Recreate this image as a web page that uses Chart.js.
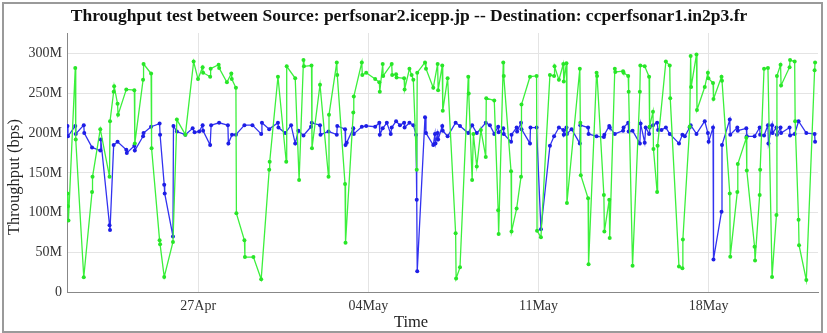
<!DOCTYPE html>
<html>
<head>
<meta charset="utf-8">
<script src="https://cdn.jsdelivr.net/npm/chart.js@4.4.0/dist/chart.umd.min.js"></script>
<style>
  body { margin: 0; background: #fff; }
  #wrap { position: relative; width: 827px; height: 333px; }
  #frame { position: absolute; left: 2px; top: 2px; width: 817px; height: 327px; border: 2px solid #9a9a9a; pointer-events: none; }
  canvas { position: absolute; left: 0; top: 0; }
</style>
</head>
<body>
<div id="wrap">
<canvas id="tputChart" width="827" height="333"></canvas>
<div id="frame"></div>
</div>
<script>
// time axis: day number counted from 1 Apr (so 04May = 34)
var tickDays = [27, 34, 41, 48];
var tickLabels = ["27Apr", "04May", "11May", "18May"];
var yTicks = [0, 50, 100, 150, 200, 250, 300];

// green series, Mbps
var greenDays = [21.62,21.64,21.66,21.94,21.96,22.29,22.63,22.65,22.97,23.35,23.37,23.52,23.54,23.68,23.70,24.04,24.37,24.39,24.73,24.75,
  25.06,25.08,25.41,25.43,25.60,25.96,26.12,26.47,26.81,26.99,27.18,27.20,27.49,27.51,27.84,27.86,28.18,28.36,28.38,28.55,
  28.57,28.90,28.92,29.27,29.59,29.92,29.94,30.28,30.62,30.64,30.99,31.15,31.33,31.35,31.66,31.68,32.01,32.36,32.38,32.70,
  32.72,33.04,33.06,33.38,33.40,33.73,33.75,33.91,34.28,34.45,34.47,34.59,34.61,34.96,34.98,35.14,35.16,35.47,35.49,35.69,
  35.78,35.85,35.99,36.01,36.33,36.37,36.67,36.85,36.87,37.04,37.06,37.26,37.59,37.61,37.77,38.11,38.13,38.27,38.32,38.46,
  38.63,38.83,38.85,39.18,39.34,39.36,39.55,39.57,39.87,39.89,40.10,40.28,40.30,40.65,40.92,40.94,41.10,41.47,41.64,41.66,
  41.84,42.02,42.04,42.15,42.17,42.70,42.72,42.74,43.04,43.06,43.39,43.41,43.69,43.71,43.91,43.93,44.14,44.16,44.48,44.50,
  44.69,44.71,44.87,45.17,45.19,45.37,45.55,45.57,45.71,45.73,45.88,45.90,46.24,46.40,46.42,46.78,46.92,46.94,47.22,47.26,
  47.28,47.50,47.52,47.84,47.97,47.99,48.18,48.20,48.53,48.55,48.87,48.89,49.18,49.20,49.55,49.57,49.89,49.91,50.10,50.12,
  50.28,50.44,50.61,50.79,50.81,50.96,50.98,51.33,51.35,51.54,51.56,51.70,51.72,52.02,52.36,52.38];
var greenMbps = [124,108,90,282,192,18.5,126,145,205,145,215,252,259,237,223,255,254,187,267,287,
  275,181,65,60,19,63,217,198,290,268,283,276,271,281,286,282,264,275,268,257,
  99,65,44,44,16,154,164,271,164,284,269,141,292,284,285,181,261,145,223,289,
  273,136,62,226,246,289,273,276,268,264,252,287,272,287,273,274,270,269,255,281,
  273,267,154,276,289,281,257,287,254,285,228,269,74,17,31,271,250,141,199,158,
  204,170,244,241,103,73,289,272,152,76,105,145,236,271,272,77,69,273,272,284,
  267,287,265,288,112,281,213,147,118,35,276,272,122,76,116,68,281,277,278,276,
  272,252,33,252,285,284,271,208,227,180,126,184,290,285,244,32,30,66,208,297,
  258,299,229,258,276,269,263,243,271,266,124,44.5,126,161,194,153,57,39.5,122,154,
  281,282,19,97,272,286,260,283,292,290,215,91,59,15,279,289];

// blue series, Mbps
var blueDays = [21.62,21.64,21.94,21.96,22.29,22.31,22.63,22.97,22.99,23.35,23.37,23.52,23.68,24.04,24.06,24.37,24.39,24.73,24.75,25.06,
  25.41,25.43,25.60,25.62,25.96,25.98,26.12,26.47,26.77,26.85,27.04,27.18,27.20,27.49,27.53,27.86,28.22,28.24,28.39,28.55,
  28.90,29.23,29.59,29.62,29.92,30.28,30.30,30.58,30.82,30.99,31.12,31.33,31.64,31.67,32.01,32.03,32.36,32.70,32.72,33.04,
  33.06,33.11,33.38,33.40,33.73,33.91,34.28,34.45,34.47,34.59,34.76,34.92,34.96,35.14,35.30,35.47,35.49,35.69,35.85,35.96,
  35.99,36.01,36.33,36.37,36.67,36.74,36.76,36.85,36.87,37.04,37.06,37.26,37.59,37.77,38.11,38.27,38.46,38.83,39.00,39.18,
  39.34,39.36,39.55,39.57,39.87,39.89,40.10,40.12,40.28,40.30,40.65,40.67,40.92,41.10,41.47,41.64,41.84,42.02,42.04,42.15,
  42.17,42.36,42.70,42.72,43.04,43.06,43.39,43.69,43.71,43.91,43.93,44.14,44.48,44.50,44.69,44.71,44.87,45.17,45.20,45.37,
  45.41,45.55,45.57,45.71,45.88,45.92,46.06,46.24,46.40,46.78,46.92,47.02,47.22,47.26,47.50,47.84,47.97,48.00,48.18,48.20,
  48.53,48.55,48.87,48.89,49.18,49.20,49.55,49.57,49.89,50.10,50.12,50.28,50.44,50.46,50.61,50.63,50.79,50.81,50.96,50.98,
  51.33,51.35,51.54,51.70,52.02,52.36,52.38];
var blueMbps = [209,196,209,199,210,200,182,178,192,84,78,185,189,179,175,184,178,196,200,208,
  212,198,135,124,70,209,202,198,206,201,202,210,203,185,210,213,210,187,198,198,
  210,210,199,213,205,213,207,200,210,187,203,197,208,213,210,198,202,198,209,205,
  185,188,206,199,208,209,208,213,198,206,213,199,207,215,210,213,207,213,210,198,
  116,26,220,200,185,199,187,200,192,209,203,196,213,209,200,210,200,213,210,199,
  208,201,206,199,189,198,207,202,213,205,187,207,207,79,184,196,207,204,198,207,
  199,205,187,210,207,199,196,195,198,209,207,199,203,207,213,202,203,187,212,188,
  207,199,207,210,213,204,204,207,199,187,198,196,207,210,199,215,200,189,207,41,
  101,185,217,198,207,203,206,196,196,207,198,197,210,187,210,200,207,198,207,200,
  207,197,199,215,200,199,189];

function toPoints(days, vals) {
  return days.map(function (d, i) { return { x: d, y: vals[i] }; });
}

var serif = "'Liberation Serif', 'Times New Roman', serif";

// axis titles sit centred on the whole picture, not on the plot area
var axisTitles = {
  id: 'axisTitles',
  afterDraw: function (chart) {
    var c = chart.ctx;
    c.save();
    c.fillStyle = '#222';
    c.font = '16.5px ' + serif;
    c.textAlign = 'center';
    c.textBaseline = 'middle';
    c.fillText('Time', 411, 323);
    c.translate(15, 177);
    c.rotate(-Math.PI / 2);
    c.fillText('Throughput (bps)', 0, 0);
    c.restore();
  }
};

var ctx = document.getElementById("tputChart");
var tputChart = new Chart(ctx, {
  type: 'line',
  data: {
    datasets: [{
      label: "green",
      data: toPoints(greenDays, greenMbps),
      borderColor: "rgb(60, 240, 60)",
      backgroundColor: "rgb(40, 230, 40)",
      borderWidth: 1.3,
      pointRadius: 2,
      pointBorderWidth: 0,
      pointBackgroundColor: "rgb(40, 230, 40)",
      tension: 0
    }, {
      label: "blue",
      data: toPoints(blueDays, blueMbps),
      borderColor: "rgb(50, 50, 240)",
      backgroundColor: "rgb(30, 30, 230)",
      borderWidth: 1.3,
      pointRadius: 2,
      pointBorderWidth: 0,
      pointBackgroundColor: "rgb(30, 30, 230)",
      tension: 0
    }]
  },
  options: {
    responsive: false,
    animation: false,
    devicePixelRatio: 1,
    layout: { padding: { left: 0, right: 9, top: 0, bottom: 0 } },
    plugins: {
      legend: { display: false },
      tooltip: { enabled: false },
      title: {
        display: true,
        text: "Throughput test between Source: perfsonar2.icepp.jp -- Destination: ccperfsonar1.in2p3.fr",
        color: '#111',
        font: { family: serif, size: 17.5, weight: 'bold' },
        padding: { top: 6, bottom: 6 }
      }
    },
    scales: {
      x: {
        type: 'linear',
        min: 21.6,
        max: 52.5,
        afterBuildTicks: function (scale) {
          scale.ticks = tickDays.map(function (d) { return { value: d }; });
        },
        afterFit: function (scale) { scale.height = 41; },
        ticks: {
          color: '#333',
          font: { family: serif, size: 14 },
          padding: 6,
          maxRotation: 0,
          callback: function (v) { return tickLabels[tickDays.indexOf(v)]; }
        },
        grid: { color: '#e4e4e4', drawTicks: false },
        border: { color: '#888', width: 1 }
      },
      y: {
        min: 0,
        max: 326,
        afterBuildTicks: function (scale) {
          scale.ticks = yTicks.map(function (v) { return { value: v }; });
        },
        afterFit: function (scale) { scale.width = 67; },
        ticks: {
          color: '#333',
          font: { family: serif, size: 14 },
          padding: 5,
          callback: function (v) { return v === 0 ? '0' : v + 'M'; }
        },
        grid: { color: '#e4e4e4', drawTicks: false },
        border: { color: '#888', width: 1 }
      }
    }
  },
  plugins: [axisTitles]
});
</script>
</body>
</html>
